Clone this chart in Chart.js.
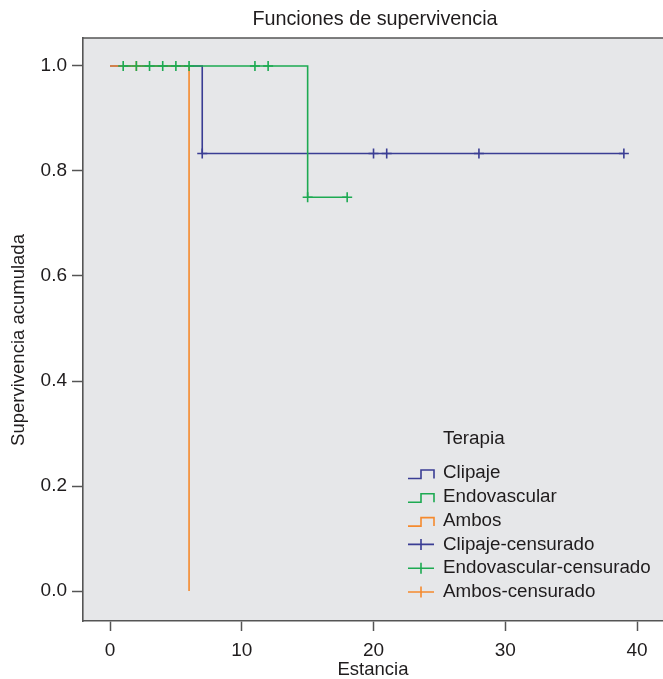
<!DOCTYPE html>
<html>
<head>
<meta charset="utf-8">
<script src="https://cdn.jsdelivr.net/npm/chart.js@4"></script>
<style>
html,body{margin:0;padding:0;background:#fff;overflow:hidden;}
#wrap{width:663px;height:679px;position:relative;}
canvas{display:block;}
</style>
</head>
<body>
<div id="wrap"><canvas id="c" width="663" height="679"></canvas></div>
<script>
// ---- data ----
const clipajeTimes = [0, 7, 39];
const clipajeSurv  = [1, 0.8333, 0.8333];
const endoTimes    = [1, 15, 18];
const endoSurv     = [1, 0.75, 0.75];
const ambosTimes   = [0, 6];
const ambosSurv    = [1, 0];
const clipajeCensTimes = [7, 20, 21, 28, 39];
const clipajeCensSurv  = [0.8333, 0.8333, 0.8333, 0.8333, 0.8333];
const endoCensTimes = [1, 2, 3, 4, 5, 6, 11, 12, 15, 18];
const endoCensSurv  = [1, 1, 1, 1, 1, 1, 1, 1, 0.75, 0.75];
const ambosCensTimes = [2];
const ambosCensSurv  = [1];
const xTicks = [0, 10, 20, 30, 40];
const yTicks = [0, 0.2, 0.4, 0.6, 0.8, 1.0];
const legendTitle = 'Terapia';
const legendLabels = ['Clipaje', 'Endovascular', 'Ambos', 'Clipaje-censurado', 'Endovascular-censurado', 'Ambos-censurado'];
const chartTitle = 'Funciones de supervivencia';
const xTitle = 'Estancia';
const yTitle = 'Supervivencia acumulada';

const BLUE = '#3a3d94', GREEN = '#1daa52', ORANGE = '#f58a2e';
const FONT = '"Liberation Sans", Arial, sans-serif';
const TXT = '#1f1c1d';
const AXC = '#555555';

function pts(xs, ys){ return xs.map((x,i)=>({x:x, y:ys[i]})); }

const lineDs = (label, xs, ys, color) => ({
  label, data: pts(xs, ys), showLine: true, stepped: true,
  borderColor: color, backgroundColor: color, borderWidth: 1.6,
  pointRadius: 0, pointHoverRadius: 0, fill: false
});
const censDs = (label, xs, ys, color) => ({
  label, data: pts(xs, ys), showLine: false,
  pointStyle: 'cross', pointRadius: 5, pointHoverRadius: 5,
  borderColor: color, backgroundColor: color, pointBorderWidth: 1.6
});

const legendKinds = ['step','step','step','cross','cross','cross'];
const legendColors = [BLUE, GREEN, ORANGE, BLUE, GREEN, ORANGE];

const decor = {
  id: 'decor',
  beforeDraw(chart){
    const {ctx, chartArea:a} = chart;
    ctx.save();
    ctx.fillStyle = '#ffffff';
    ctx.fillRect(0,0,chart.width,chart.height);
    ctx.fillStyle = '#e6e7e9';
    ctx.fillRect(a.left, a.top, a.right-a.left, a.bottom-a.top);
    ctx.restore();
  },
  afterDraw(chart){
    const {ctx, chartArea:a} = chart;
    ctx.save();
    // top border
    ctx.strokeStyle = AXC; ctx.lineWidth = 1.6;
    ctx.beginPath(); ctx.moveTo(a.left, a.top); ctx.lineTo(a.right, a.top); ctx.stroke();
    // title
    ctx.fillStyle = TXT;
    ctx.textAlign = 'center'; ctx.textBaseline = 'middle';
    ctx.font = '19.8px ' + FONT;
    ctx.fillText(chartTitle, 375, 20);
    // x title
    ctx.font = '18.5px ' + FONT;
    ctx.fillText(xTitle, (a.left + a.right)/2, 670);
    // y title
    ctx.save();
    ctx.translate(19, 340);
    ctx.rotate(-Math.PI/2);
    ctx.fillText(yTitle, 0, 0);
    ctx.restore();
    // legend
    ctx.textAlign = 'left';
    ctx.font = '18.8px ' + FONT;
    ctx.fillText(legendTitle, 443, 439);
    const y0 = 473, dy = 23.8;
    legendLabels.forEach((lab, i) => {
      const y = y0 + i*dy;
      ctx.fillStyle = TXT;
      ctx.fillText(lab, 443, y);
      ctx.strokeStyle = legendColors[i]; ctx.lineWidth = 1.6;
      ctx.beginPath();
      if (legendKinds[i] === 'step') {
        ctx.moveTo(408, y+5.5); ctx.lineTo(421, y+5.5); ctx.lineTo(421, y-3);
        ctx.lineTo(434, y-3); ctx.lineTo(434, y+5.5);
      } else {
        ctx.moveTo(408, y); ctx.lineTo(434, y);
        ctx.moveTo(421, y-5.5); ctx.lineTo(421, y+5.5);
      }
      ctx.stroke();
    });
    ctx.restore();
  }
};

new Chart(document.getElementById('c'), {
  type: 'scatter',
  data: {
    datasets: [
      censDs('Endovascular-censurado', endoCensTimes, endoCensSurv, GREEN),
      censDs('Ambos-censurado', ambosCensTimes, ambosCensSurv, ORANGE),
      censDs('Clipaje-censurado', clipajeCensTimes, clipajeCensSurv, BLUE),
      lineDs('Endovascular', endoTimes, endoSurv, GREEN),
      lineDs('Ambos', ambosTimes, ambosSurv, ORANGE),
      lineDs('Clipaje', clipajeTimes, clipajeSurv, BLUE)
    ]
  },
  options: {
    responsive: false,
    devicePixelRatio: 1,
    animation: false,
    events: [],
    layout: { autoPadding: false, padding: { top: 38, right: 0, left: 0, bottom: 0 } },
    plugins: { legend: { display: false }, title: { display: false }, tooltip: { enabled: false } },
    scales: {
      x: {
        type: 'linear', min: -2.05, max: 41.97,
        afterBuildTicks: s => { s.ticks = xTicks.map(v => ({value: v})); },
        afterFit: s => { s.height = 58; s.paddingRight = 0; s.paddingLeft = 0; },
        ticks: { color: TXT, font: { family: FONT, size: 19 }, padding: 8, maxRotation: 0, autoSkip: false },
        grid: { drawOnChartArea: false, drawTicks: true, tickLength: 10, color: AXC, tickWidth: 1.5 },
        border: { display: true, color: AXC, width: 1.6 }
      },
      y: {
        type: 'linear', min: -0.0571, max: 1.0533,
        afterBuildTicks: s => { s.ticks = yTicks.map(v => ({value: v})); },
        afterFit: s => { s.width = 83; s.paddingTop = 0; s.paddingBottom = 0; },
        ticks: { color: TXT, font: { family: FONT, size: 19 }, padding: 5, autoSkip: false,
                 callback: v => Number(v).toFixed(1) },
        grid: { drawOnChartArea: false, drawTicks: true, tickLength: 11, color: AXC, tickWidth: 1.5 },
        border: { display: true, color: AXC, width: 1.6 }
      }
    }
  },
  plugins: [decor]
});
</script>
</body>
</html>
